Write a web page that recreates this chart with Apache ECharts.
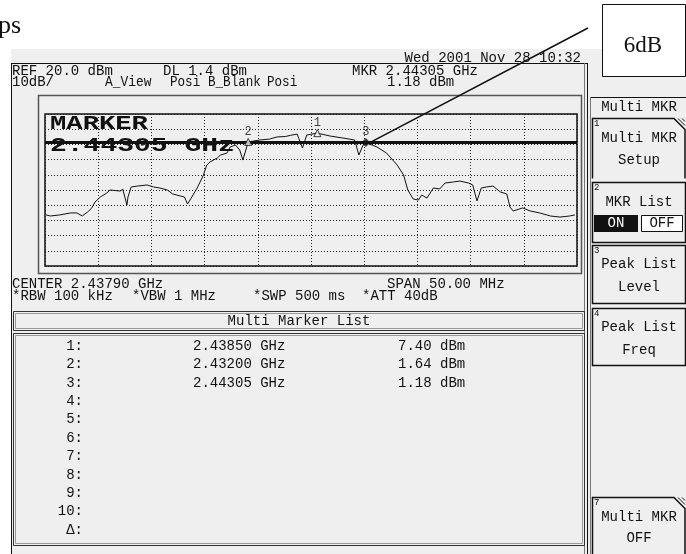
<!DOCTYPE html>
<html>
<head>
<meta charset="utf-8">
<script src="https://cdn.jsdelivr.net/npm/echarts@6/dist/echarts.min.js"></script>
<style>
  html, body { margin: 0; padding: 0; background: #fff; }
  #chart { width: 686px; height: 554px; }
</style>
</head>
<body>
<div id="chart"></div>
<script>
'use strict';

// 仪器设置
const centerMHz = 2437.9;
const refLevel = 20;
const dbPerDiv = 10;
const displayLine = 1.4;

// 频谱曲线 (MHz, dBm)
const traceFreq = [
  2413.0, 2413.4, 2414.3, 2415.3, 2415.9, 2416.4, 2416.9, 2417.3, 2417.6, 2418.1,
  2418.7, 2419.0, 2420.0, 2420.2, 2420.4, 2420.6, 2420.7, 2421.0, 2421.6, 2422.5,
  2423.1, 2423.7, 2424.4, 2424.9, 2425.6, 2426.0, 2426.3, 2426.7, 2427.2, 2427.8,
  2428.1, 2428.4, 2429.1, 2429.4, 2430.0, 2430.3, 2430.8, 2431.2, 2431.5, 2432.0,
  2433.1, 2434.0, 2434.7, 2435.5, 2436.0, 2436.6, 2437.1, 2437.5, 2438.5, 2439.7,
  2440.9, 2442.0, 2442.4, 2442.8, 2443.05, 2444.1, 2445.0, 2446.0, 2446.6, 2447.0,
  2447.5, 2448.0, 2448.3, 2448.8, 2449.4, 2450.0, 2450.5, 2451.3, 2451.9, 2452.7,
  2453.1, 2453.5, 2453.9, 2454.4, 2455.0, 2455.7, 2456.3, 2456.6, 2456.9, 2457.8,
  2458.5, 2459.4, 2460.4, 2461.3, 2462.2, 2462.7
];
const traceLevel = [
  -46.4, -47.1, -46.4, -45.1, -45.1, -47.1, -44.5, -41.8, -37.9, -34.6,
  -32.0, -30.0, -30.7, -29.3, -34.6, -39.9, -34.6, -28.0, -27.4, -26.7,
  -28.0, -28.7, -30.0, -32.6, -33.9, -34.6, -39.2, -34.6, -28.7, -20.1,
  -13.6, -11.6, -8.9, -7.0, -5.7, -1.7, -0.4, -3.7, -10.3, 1.64,
  2.9, 3.5, 4.9, 5.2, 6.0, 6.8, -2.4, 6.2, 7.4, 5.5,
  4.2, 2.9, -7.0, -0.4, 1.18, -1.7, -5.7, -13.6, -20.1, -30.0,
  -35.9, -36.6, -33.3, -35.3, -28.7, -29.3, -25.4, -24.7, -24.1, -25.4,
  -26.7, -37.2, -28.7, -28.0, -27.4, -31.3, -32.6, -41.2, -43.8, -41.8,
  -43.8, -45.1, -47.1, -47.8, -47.1, -46.4
];

// 多标记
const markerNo = ['1', '2', '3'];
const markerFreq = [2438.50, 2432.00, 2443.05];
const markerLevel = [7.40, 1.64, 1.18];

// 标记列表
const listRows = ['1:', '2:', '3:', '4:', '5:', '6:', '7:', '8:', '9:', '10:', 'Δ:'];
const listFreq = ['2.43850 GHz', '2.43200 GHz', '2.44305 GHz'];
const listLevel = ['7.40 dBm', '1.64 dBm', '1.18 dBm'];

const FONT = '14px "Liberation Mono"';
const SMALL = '9px "Liberation Mono"';
const BG = '#efefef';
const INK = '#111';

function txt(x, y, text, o = {}) {
  return {
    type: 'text', x, y, z: o.z ?? 5, scaleX: o.sx ?? 1,
    style: {
      text, x: 0, y: 0, font: o.font ?? FONT, fill: o.fill ?? INK,
      textAlign: o.align ?? 'left', textVerticalAlign: 'middle'
    }
  };
}
function rect(x, y, w, h, o = {}) {
  return {
    type: 'rect', z: o.z ?? 1, shape: { x, y, width: w, height: h },
    style: { fill: o.fill ?? 'none', stroke: o.stroke ?? null, lineWidth: o.lw ?? 1 }
  };
}
function line(x1, y1, x2, y2, o = {}) {
  return {
    type: 'line', z: o.z ?? 1, shape: { x1, y1, x2, y2 },
    style: { stroke: o.stroke ?? INK, lineWidth: o.lw ?? 1 }
  };
}
function cutBox(x0, y0, x1, y1) {
  // 右上角斜切的菜单框
  return [
    { type: 'polyline', z: 2, shape: { points: [[x0, y1], [x0, y0], [x1 - 11, y0], [x1, y0 + 11], [x1, y1]] },
      style: { fill: null, stroke: INK, lineWidth: 1.5 } },
    line(x1 - 7, y0, x1, y0 + 7, { z: 2 }),
    line(x1 - 3, y0, x1, y0 + 3, { z: 2 })
  ];
}

const graphics = [];
// 背景
graphics.push(rect(11, 49, 675, 505, { fill: BG, z: -1 }));
// 主屏幕边框
graphics.push(line(11, 63.5, 587, 63.5));
graphics.push(line(11.5, 63, 11.5, 554));
graphics.push(line(584.5, 63, 584.5, 554, { stroke: '#777' }));
graphics.push(line(587.5, 63, 587.5, 554));
// 图形外框
graphics.push(rect(38.5, 95.5, 543, 178, { stroke: '#555', lw: 1.5 }));

// 顶部文字
graphics.push(txt(581, 58, 'Wed 2001 Nov 28 10:32', { align: 'right' }));
graphics.push(txt(12, 71.5, 'REF 20.0 dBm'));
graphics.push(txt(163, 71.5, 'DL 1.4 dBm'));
graphics.push(txt(352, 71.5, 'MKR 2.44305 GHz'));
graphics.push(txt(12, 82.5, '10dB/'));
graphics.push(txt(105, 82.5, 'A_View', { sx: 0.92 }));
graphics.push(txt(170, 82.5, 'Posi', { sx: 0.9 }));
graphics.push(txt(208, 82.5, 'B_Blank', { sx: 0.9 }));
graphics.push(txt(267, 82.5, 'Posi', { sx: 0.9 }));
graphics.push(txt(387, 82.5, '1.18 dBm'));

// 图内大字
graphics.push(txt(50, 124, 'MARKER', { font: 'bold 20px "Liberation Mono"', sx: 1.36, z: 3 }));
graphics.push(txt(50, 146, '2.44305 GHz', { font: 'bold 20px "Liberation Mono"', sx: 1.4, z: 3 }));

// 底部设置
graphics.push(txt(12, 284, 'CENTER 2.43790 GHz'));
graphics.push(txt(387, 284, 'SPAN 50.00 MHz'));
graphics.push(txt(12, 296, '*RBW 100 kHz'));
graphics.push(txt(132, 296, '*VBW 1 MHz'));
graphics.push(txt(253, 296, '*SWP 500 ms'));
graphics.push(txt(362, 296, '*ATT 40dB'));

// 标记列表框
graphics.push(rect(13.5, 311.5, 571, 19, { stroke: '#333' }));
graphics.push(rect(15.5, 313.5, 567, 15, { stroke: '#999' }));
graphics.push(txt(299, 321, 'Multi Marker List', { align: 'center' }));
graphics.push(rect(13.5, 333.5, 571, 212, { stroke: '#333' }));
graphics.push(rect(15.5, 335.5, 567, 208, { stroke: '#999' }));
listRows.forEach((r, i) => {
  const y = 346 + i * 18.4;
  graphics.push(txt(83, y, r, { align: 'right' }));
  if (listFreq[i]) graphics.push(txt(193, y, listFreq[i]));
  if (listLevel[i]) graphics.push(txt(398, y, listLevel[i]));
});

// 右侧菜单
graphics.push(line(590, 97.5, 686, 97.5));
graphics.push(line(590.5, 97, 590.5, 554, { stroke: '#777' }));
graphics.push(txt(639, 107, 'Multi MKR', { align: 'center' }));
graphics.push(...cutBox(592.5, 118.5, 685, 178.5));
graphics.push(txt(594, 124, '1', { font: SMALL }));
graphics.push(txt(639, 138, 'Multi MKR', { align: 'center' }));
graphics.push(txt(639, 160, 'Setup', { align: 'center' }));

graphics.push(rect(592.5, 182.5, 93, 60, { stroke: INK, lw: 1.5, z: 2 }));
graphics.push(txt(594, 188, '2', { font: SMALL }));
graphics.push(txt(639, 202, 'MKR List', { align: 'center' }));
graphics.push(rect(594, 215, 44, 17, { fill: INK, z: 2 }));
graphics.push(txt(616, 223.5, 'ON', { align: 'center', fill: '#fff', z: 6 }));
graphics.push(rect(641.5, 215.5, 41, 16, { fill: '#fff', stroke: INK, z: 2 }));
graphics.push(txt(662, 223.5, 'OFF', { align: 'center', z: 6 }));

graphics.push(rect(592.5, 245.5, 93, 58, { stroke: INK, lw: 1.5, z: 2 }));
graphics.push(txt(594, 251, '3', { font: SMALL }));
graphics.push(txt(639, 264, 'Peak List', { align: 'center' }));
graphics.push(txt(639, 287, 'Level', { align: 'center' }));

graphics.push(rect(592.5, 308.5, 93, 57, { stroke: INK, lw: 1.5, z: 2 }));
graphics.push(txt(594, 314, '4', { font: SMALL }));
graphics.push(txt(639, 327, 'Peak List', { align: 'center' }));
graphics.push(txt(639, 350, 'Freq', { align: 'center' }));

graphics.push(...cutBox(592.5, 497.5, 685, 560));
graphics.push(txt(594, 503, '7', { font: SMALL }));
graphics.push(txt(639, 517, 'Multi MKR', { align: 'center' }));
graphics.push(txt(639, 538, 'OFF', { align: 'center' }));

// 标注框
graphics.push(txt(21, 26, 'ps', { font: '26px "Liberation Serif"', align: 'right' }));
graphics.push(rect(602.5, 4.5, 83, 72, { fill: '#fff', stroke: INK, z: 6 }));
graphics.push(txt(643, 46, '6dB', { font: '23px "Liberation Serif"', align: 'center', z: 7 }));

const chart = echarts.init(document.getElementById('chart'), null, { renderer: 'canvas' });

const option = {
  animation: false,
  backgroundColor: 'transparent',
  grid: {
    left: 45, top: 114, width: 532, height: 152,
    show: true, borderColor: INK, borderWidth: 1.5, backgroundColor: 'transparent'
  },
  xAxis: {
    type: 'value', min: -25, max: 25, interval: 5,
    axisLine: { show: false }, axisTick: { show: false }, axisLabel: { show: false },
    splitLine: { lineStyle: { color: '#222', type: [1, 2], width: 1 } }
  },
  yAxis: {
    type: 'value', min: refLevel - 10 * dbPerDiv, max: refLevel, interval: dbPerDiv,
    axisLine: { show: false }, axisTick: { show: false }, axisLabel: { show: false },
    splitLine: { lineStyle: { color: '#222', type: [1, 2], width: 1 } }
  },
  graphic: { elements: graphics },
  series: [
    {
      type: 'line',
      data: traceFreq.map((f, i) => [f - centerMHz, traceLevel[i]]),
      symbol: 'none',
      lineStyle: { color: INK, width: 1 },
      z: 4,
      markLine: {
        silent: true, symbol: 'none', label: { show: false },
        lineStyle: { color: INK, width: 3, type: 'solid' },
        data: [{ yAxis: displayLine }]
      }
    },
    {
      type: 'scatter',
      z: 5,
      data: markerFreq.map((f, i) => ({
        value: [f - centerMHz, markerLevel[i]],
        name: markerNo[i],
        symbol: i === 2 ? 'diamond' : 'triangle',
        symbolSize: i === 2 ? 9 : 7,
        itemStyle: i === 2
          ? { color: INK }
          : { color: BG, borderColor: INK, borderWidth: 1 }
      })),
      label: {
        show: true, position: 'top', distance: 0,
        formatter: p => p.name,
        fontFamily: 'Liberation Mono', fontSize: 12, color: INK
      }
    }
  ]
};
chart.setOption(option);

// 指向标记3的斜线
const p3 = chart.convertToPixel({ gridIndex: 0 }, [markerFreq[2] - centerMHz, markerLevel[2]]);
graphics.push(line(588, 28, p3[0] + 4, p3[1], { lw: 1.5, z: 8 }));
chart.setOption({ graphic: { elements: graphics } }, { replaceMerge: ['graphic'] });
</script>
</body>
</html>
